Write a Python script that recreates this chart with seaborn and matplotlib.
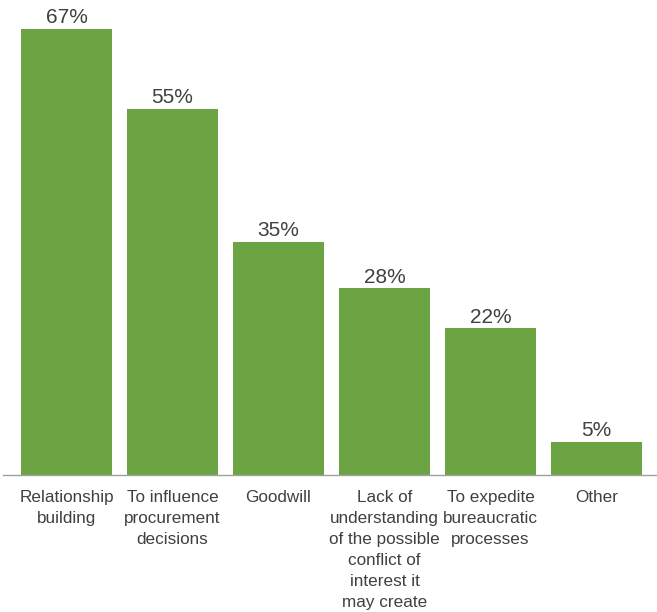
import matplotlib
matplotlib.use("Agg")
import matplotlib.pyplot as plt
import seaborn as sns
import pandas as pd

categories = [
    "Relationship\nbuilding",
    "To influence\nprocurement\ndecisions",
    "Goodwill",
    "Lack of\nunderstanding\nof the possible\nconflict of\ninterest it\nmay create",
    "To expedite\nbureaucratic\nprocesses",
    "Other",
]
values = [67, 55, 35, 28, 22, 5]
value_labels = [f"{v}%" for v in values]

df = pd.DataFrame({"reason": categories, "share": values})

sns.set_theme(style="white")
plt.rcParams["font.family"] = ["Liberation Sans", "DejaVu Sans"]

fig = plt.figure(figsize=(6.57, 6.12), dpi=100)
ax = fig.add_axes([3 / 657, 137 / 612, 654 / 657, 475 / 612])

sns.barplot(data=df, x="reason", y="share", color="#6da443", saturation=1,
            width=0.858, linewidth=0, ax=ax)

ax.bar_label(ax.containers[0], labels=value_labels, padding=1,
             fontsize=15, color="#404040")

ax.set_xlim(-0.599, 5.571)
ax.set_ylim(0, 71.3)
ax.set_xlabel("")
ax.set_ylabel("")
ax.set_yticks([])
ax.tick_params(axis="x", length=0, pad=11, labelsize=12.3, labelcolor="#404040")
for lbl in ax.get_xticklabels():
    lbl.set_linespacing(1.5)
for side in ["top", "left", "right"]:
    ax.spines[side].set_visible(False)
ax.spines["bottom"].set_color("#a0a0a0")
ax.spines["bottom"].set_linewidth(1.0)

fig.savefig("out.png", dpi=100)
